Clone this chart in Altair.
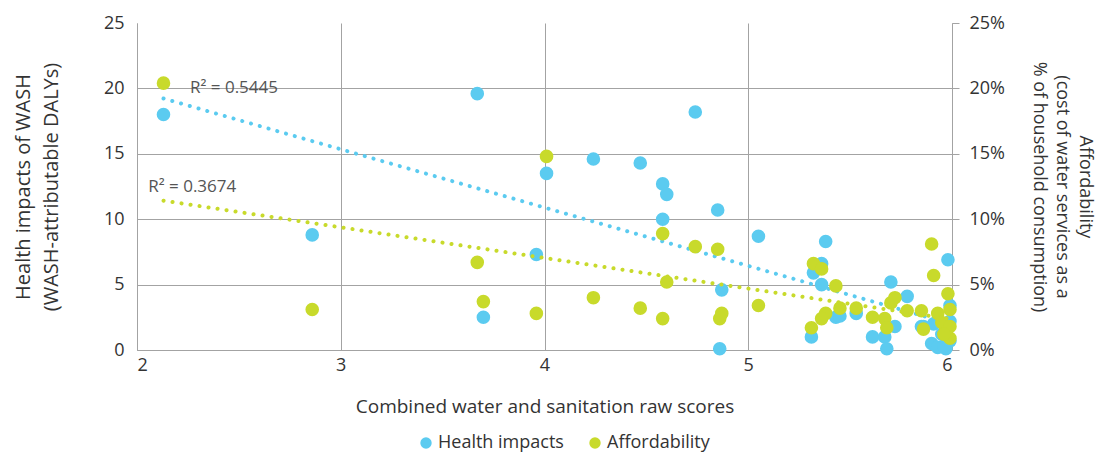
import altair as alt
import pandas as pd

# Combined water and sanitation raw scores (one entry per country)
scores = [2.13, 2.86, 3.67, 3.70, 3.96, 4.01, 4.24, 4.47, 4.58, 4.60, 4.58, 4.74, 4.85, 4.87, 4.86, 5.05,
          5.32, 5.36, 5.38, 5.36, 5.31, 5.43, 5.45, 5.53, 5.61, 5.67, 5.68, 5.70, 5.72, 5.78, 5.85, 5.86,
          5.90, 5.91, 5.93, 5.98, 5.99, 5.99, 5.97, 5.95, 5.99, 5.96]
# Health impacts (WASH-attributable DALYs)
health = [18.0, 8.8, 19.6, 2.5, 7.3, 13.5, 14.6, 14.3, 12.7, 11.9, 10.0, 18.2, 10.7, 4.6, 0.1, 8.7,
          5.9, 6.6, 8.3, 5.0, 1.0, 2.5, 2.6, 2.8, 1.0, 1.0, 0.1, 5.2, 1.8, 4.1, 1.8, 1.8,
          0.5, 2.0, 0.2, 6.9, 3.4, 0.7, 0.1, 1.2, 2.2, 0.3]
# Affordability (% of household consumption)
afford_pct = [20.4, 3.1, 6.7, 3.7, 2.8, 14.8, 4.0, 3.2, 8.9, 5.2, 2.4, 7.9, 7.7, 2.8, 2.4, 3.4,
              6.6, 6.2, 2.8, 2.4, 1.7, 4.9, 3.2, 3.2, 2.5, 2.4, 1.7, 3.6, 4.0, 3.0, 3.0, 1.6,
              8.1, 5.7, 2.8, 4.3, 3.1, 0.9, 1.5, 2.1, 1.8, 1.2]

series_names = ["Health impacts", "Affordability"]
series_colors = ["#5BCBF0", "#C8DA2B"]
r2_labels = ["R² = 0.5445", "R² = 0.3674"]
r2_x = [2.26, 2.055]
r2_y_health = [20.0]
r2_y_afford = [0.125]

FONT = "Open Sans"
GRID = "#a3a3a3"
TXT = "#333333"

common_axis = dict(labelFont=FONT, titleFont=FONT, labelFontSize=18,
                   labelColor=TXT, titleColor=TXT, titleFontWeight="normal",
                   gridColor=GRID, domainColor=GRID)

df_h = pd.DataFrame({"score": scores, "value": health, "series": series_names[0]})
df_a = pd.DataFrame({"score": scores, "value": [v / 100 for v in afford_pct], "series": series_names[1]})

x_enc = alt.X("score:Q", scale=alt.Scale(domain=[2, 6], nice=False, zero=False),
              axis=alt.Axis(values=[2, 3, 4, 5, 6], format="d",
                            title="Combined water and sanitation raw scores", titleFontSize=19,
                            grid=True, ticks=False, labelPadding=6, titlePadding=23, **common_axis))
color_enc = alt.Color("series:N",
                      scale=alt.Scale(domain=series_names, range=series_colors),
                      legend=alt.Legend(title=None, orient="none", direction="horizontal",
                                        legendX=280, legendY=411, symbolType="circle",
                                        symbolSize=130, symbolOpacity=1, symbolStrokeWidth=0,
                                        labelFontSize=18, labelFont=FONT, labelColor=TXT,
                                        columnPadding=22, labelOffset=3, padding=0))

yh = alt.Y("value:Q", scale=alt.Scale(domain=[0, 25], nice=False),
           axis=alt.Axis(orient="left", values=[0, 5, 10, 15, 20, 25], grid=True, ticks=False,
                         gridOpacity={"condition": {"test": "datum.value >= 25", "value": 0}, "value": 1},
                         labelPadding=13, titlePadding=42, titleFontSize=20, titleLineHeight=28,
                         title=["Health impacts of WASH", "(WASH-attributable DALYs)"], **common_axis))
ya = alt.Y("value:Q", scale=alt.Scale(domain=[0, 0.25], nice=False),
           axis=alt.Axis(orient="right", values=[0, 0.05, 0.10, 0.15, 0.20, 0.25], format=".0%",
                         grid=False, ticks=True, tickSize=7, tickColor=GRID, labelPadding=10,
                         titlePadding=25, titleAngle=90, titleFontSize=18, titleLineHeight=23,
                         title=["Affordability", "(cost of water services as a",
                                "% of household consumption)"], **common_axis))

pts_h = alt.Chart(df_h).mark_circle(size=185, opacity=1).encode(x=x_enc, y=yh, color=color_enc)
line_h = alt.Chart(df_h).transform_regression("score", "value", extent=[2.13, 6]).mark_line(
    color=series_colors[0], strokeWidth=4, strokeDash=[0.1, 9], strokeCap="round").encode(
    x="score:Q", y="value:Q")
txt_h = alt.Chart(pd.DataFrame({"score": r2_x[:1], "value": r2_y_health, "label": r2_labels[:1]})).mark_text(
    align="left", baseline="middle", fontSize=17, font=FONT, color="#555").encode(
    x="score:Q", y="value:Q", text="label:N")
layer_h = alt.layer(pts_h, line_h, txt_h)

pts_a = alt.Chart(df_a).mark_circle(size=185, opacity=1).encode(x=x_enc, y=ya, color=color_enc)
line_a = alt.Chart(df_a).transform_regression("score", "value", extent=[2.13, 6]).mark_line(
    color=series_colors[1], strokeWidth=4, strokeDash=[0.1, 9], strokeCap="round").encode(
    x="score:Q", y="value:Q")
txt_a = alt.Chart(pd.DataFrame({"score": r2_x[1:], "value": r2_y_afford, "label": r2_labels[1:]})).mark_text(
    align="left", baseline="middle", fontSize=17, font=FONT, color="#555").encode(
    x="score:Q", y="value:Q", text="label:N")
layer_a = alt.layer(pts_a, line_a, txt_a)

chart = alt.layer(layer_h, layer_a).resolve_scale(y="independent").properties(
    width=815, height=327,
    padding={"left": 5, "top": 6, "right": 8, "bottom": 0}
).configure_view(stroke=None)

chart.save("out.html", embed_options={"renderer": "svg", "actions": False})
